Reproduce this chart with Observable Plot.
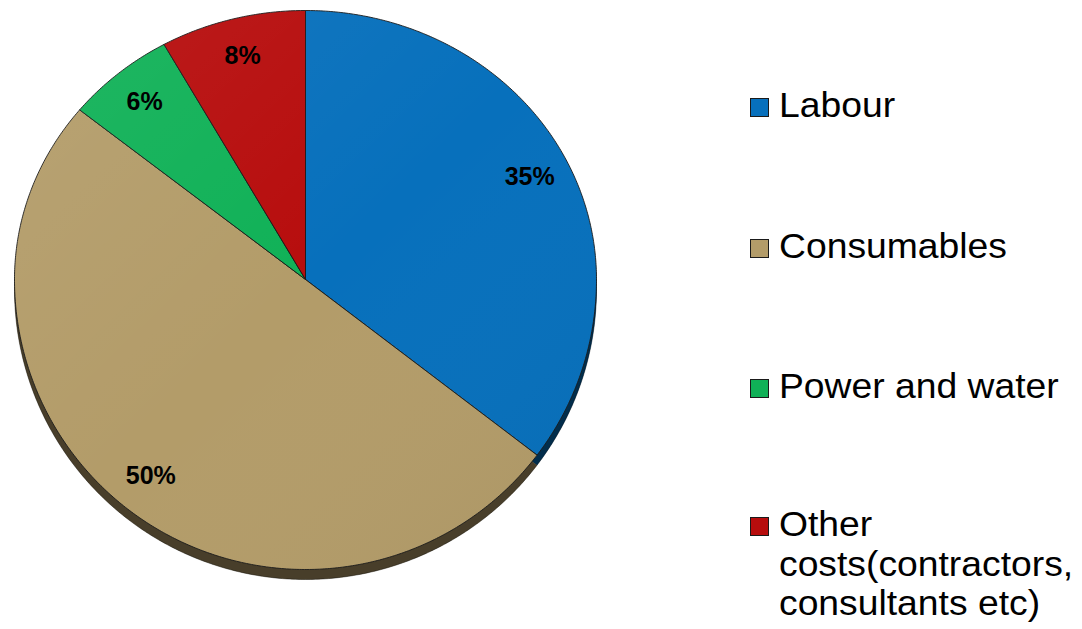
<!DOCTYPE html>
<html>
<head>
<meta charset="utf-8">
<script src="https://cdn.jsdelivr.net/npm/d3@7"></script>
<script src="https://cdn.jsdelivr.net/npm/@observablehq/plot@0.6"></script>
<style>
  html, body { margin: 0; padding: 0; background: #fff; }
  #wrap { position: relative; width: 1082px; height: 629px; overflow: hidden; }
  #chart { position: absolute; left: 0; top: 0; }
  .leg { position: absolute; left: 750px; font-family: "Liberation Sans", Arial, sans-serif; font-size: 35px; line-height: 39.5px; color: #000; white-space: nowrap; }
  .leg .sw { position: absolute; left: 0; width: 19px; height: 19px; box-sizing: border-box; border: 1.5px solid #1a1a1a; }
  .leg .tx { position: absolute; left: 29px; top: 0; transform: scaleX(1.065); transform-origin: 0 0; }
</style>
</head>
<body>
<div id="wrap"><div id="chart"></div></div>
<script>
// ---- data ----
const categories = ["Labour", "Consumables", "Power and water", "Other costs(contractors, consultants etc)"];
const legendLines = [["Labour"], ["Consumables"], ["Power and water"], ["Other", "costs(contractors,", "consultants etc)"]];
const shares = [35, 50, 6, 8];
const pctLabels = ["35%", "50%", "6%", "8%"];
const colors = ["#0770bc", "#b39c69", "#10b157", "#b70d0d"];

// ---- geometry (computed from the data) ----
const total = d3.sum(shares);
const near = 290 / 269; // perspective stretch of the near (lower) half
function pt(theta) {
  const ux = Math.sin(theta), uy = Math.cos(theta);
  return {x: ux, y: uy >= 0 ? uy : uy * near};
}
const verts = [];
const labelPts = [];
let acc = 0;
categories.forEach((name, i) => {
  const a0 = acc / total * 2 * Math.PI;
  acc += shares[i];
  const a1 = acc / total * 2 * Math.PI;
  verts.push({name, x: 0, y: 0});
  const n = Math.max(4, Math.ceil((a1 - a0) / (Math.PI / 360)));
  for (let k = 0; k <= n; k++) {
    const p = pt(a0 + (a1 - a0) * k / n);
    verts.push({name, x: p.x, y: p.y});
  }
  verts.push({name, x: 0, y: 0});
  const m = pt((a0 + a1) / 2);
  labelPts.push({label: pctLabels[i], x: m.x * 0.86, y: m.y * 0.86});
});
const full = d3.range(0, 721).map(k => pt(k / 720 * 2 * Math.PI));

const plot = Plot.plot({
  width: 620,
  height: 629,
  margin: 0,
  x: {domain: [-1, 1], range: [14, 596], axis: null},
  y: {domain: [-near, 1], range: [569, 10], axis: null},
  color: {domain: categories, range: colors},
  marks: [
    // side of the 3D disc
    Plot.line(verts, {x: "x", y: "y", z: "name", fill: "name", stroke: "none", dy: 10}),
    Plot.line(full, {x: "x", y: "y", fill: "#000", fillOpacity: 0.6, stroke: "#000", strokeOpacity: 0.5, strokeWidth: 0.8, dy: 10}),
    // top of the disc
    Plot.line(verts, {x: "x", y: "y", z: "name", fill: "name", stroke: "#1a1a1a", strokeWidth: 0.9, strokeLinejoin: "round"}),
    Plot.line(full, {x: "x", y: "y", fill: "url(#shade)", stroke: "none"}),
    Plot.text(labelPts, {x: "x", y: "y", text: "label", fontSize: 25, fontWeight: "bold", fontFamily: "Liberation Sans, Arial, sans-serif", fill: "#000"})
  ]
});

// subtle lighting gradient
const ns = "http://www.w3.org/2000/svg";
const defs = document.createElementNS(ns, "defs");
defs.innerHTML = '<linearGradient id="shade" x1="0" y1="0" x2="1" y2="1">' +
  '<stop offset="0" stop-color="#fff" stop-opacity="0.07"/>' +
  '<stop offset="0.5" stop-color="#fff" stop-opacity="0"/>' +
  '<stop offset="1" stop-color="#000" stop-opacity="0.05"/></linearGradient>';
plot.insertBefore(defs, plot.firstChild);
document.getElementById("chart").appendChild(plot);

// ---- legend ----
const baselines = [117, 258, 398, 536];
const wrap = document.getElementById("wrap");
legendLines.forEach((lines, i) => {
  const d = document.createElement("div");
  d.className = "leg";
  d.style.top = (baselines[i] - 32) + "px";
  const sw = document.createElement("div");
  sw.className = "sw";
  sw.style.background = colors[i];
  sw.style.top = (32 - 19) + "px";
  const tx = document.createElement("div");
  tx.className = "tx";
  tx.innerHTML = lines.join("<br>");
  d.appendChild(sw);
  d.appendChild(tx);
  wrap.appendChild(d);
});
</script>
</body>
</html>
